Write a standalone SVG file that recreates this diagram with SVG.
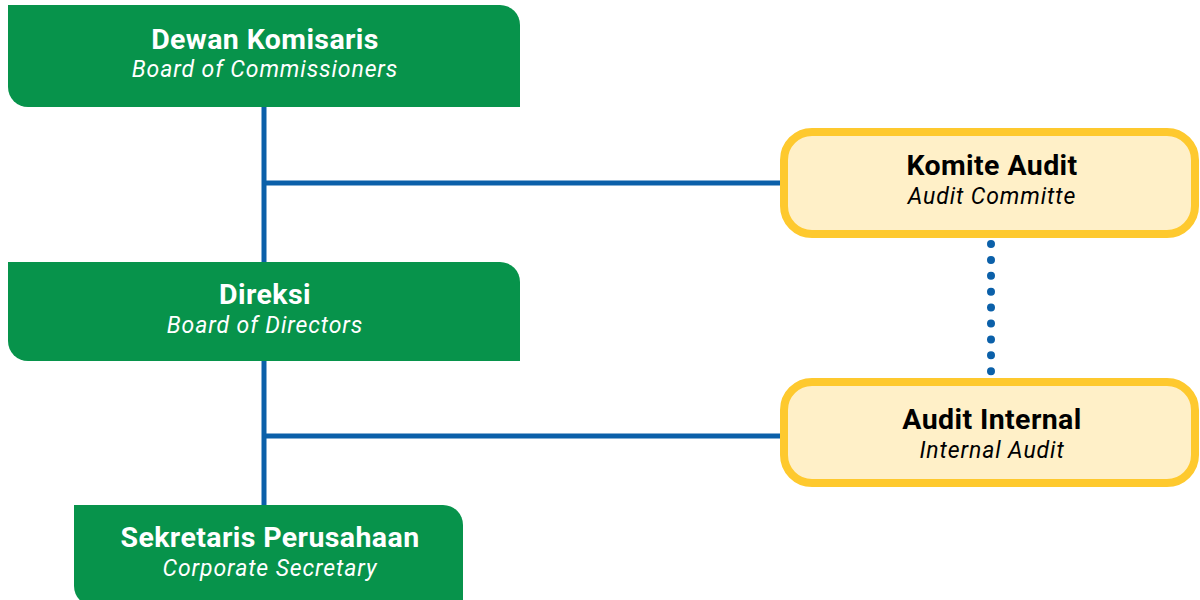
<svg xmlns="http://www.w3.org/2000/svg" width="1200" height="600" viewBox="0 0 1200 600">
  <style>
    .green { fill: #07934b; }
    .yellow { fill: #fff0c8; stroke: #fec92e; stroke-width: 8; }
    .title { font-family: Roboto, "Liberation Sans", sans-serif; font-weight: bold; font-size: 28.5px; letter-spacing: 0.4px; text-anchor: middle; }
    .sub { font-family: Roboto, "Liberation Sans", sans-serif; font-style: italic; font-weight: 400; font-size: 23px; letter-spacing: 0.9px; text-anchor: middle; }
    .onGreen { fill: #ffffff; }
    .onYellow { fill: #000000; }
    .line { stroke: #0b60a9; stroke-width: 5; fill: none; }
    .dots { stroke: #0b60a9; stroke-width: 8; stroke-linecap: round; stroke-dasharray: 0 15.9; fill: none; }
  </style>

  <!-- connectors -->
  <g id="connectors">
    <line class="line" x1="264" y1="100" x2="264" y2="510"/>
    <line class="line" x1="264" y1="183" x2="782" y2="183"/>
    <line class="line" x1="264" y1="436" x2="782" y2="436"/>
    <line class="dots" x1="991" y1="244" x2="991" y2="372"/>
  </g>

  <!-- Dewan Komisaris -->
  <g id="dewan-komisaris">
    <path class="green" d="M8,5 H500 A20,20 0 0 1 520,25 V107 H28 A20,20 0 0 1 8,87 Z"/>
    <text class="title onGreen" x="265" y="49">Dewan Komisaris</text>
    <text class="sub onGreen" x="265" y="77">Board of Commissioners</text>
  </g>

  <!-- Direksi -->
  <g id="direksi">
    <path class="green" d="M8,262 H500 A20,20 0 0 1 520,282 V361 H28 A20,20 0 0 1 8,341 Z"/>
    <text class="title onGreen" x="265" y="304">Direksi</text>
    <text class="sub onGreen" x="265" y="333">Board of Directors</text>
  </g>

  <!-- Sekretaris Perusahaan -->
  <g id="sekretaris-perusahaan">
    <path class="green" d="M74,505 H443 A20,20 0 0 1 463,525 V606 H94 A20,20 0 0 1 74,586 Z"/>
    <text class="title onGreen" x="270" y="547">Sekretaris Perusahaan</text>
    <text class="sub onGreen" x="270" y="576">Corporate Secretary</text>
  </g>

  <!-- Komite Audit -->
  <g id="komite-audit">
    <rect class="yellow" x="784" y="132" width="411" height="102" rx="28"/>
    <text class="title onYellow" x="992" y="175">Komite Audit</text>
    <text class="sub onYellow" x="992" y="204">Audit Committe</text>
  </g>

  <!-- Audit Internal -->
  <g id="audit-internal">
    <rect class="yellow" x="784" y="382" width="411" height="101" rx="28"/>
    <text class="title onYellow" x="992" y="429">Audit Internal</text>
    <text class="sub onYellow" x="992" y="458">Internal Audit</text>
  </g>
</svg>
